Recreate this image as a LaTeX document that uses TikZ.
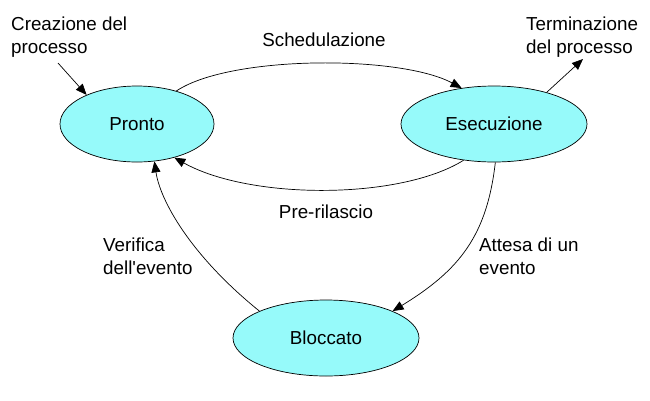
\documentclass[tikz,border=0pt]{standalone}
\usepackage{fontspec}
\setmainfont{Liberation Sans}[Ligatures=TeXOff]
\usetikzlibrary{shapes.geometric,arrows.meta}
\definecolor{statefill}{RGB}{150,250,250}
\tikzset{
  state/.style={ellipse,draw=black,line width=0.7pt,fill=statefill,inner sep=0pt,minimum height=76pt,font=\fontsize{18.8}{23}\selectfont},
  lbl/.style={font=\fontsize{18.8}{23}\selectfont,inner sep=0pt},
  conn/.style={draw=black,line width=0.7pt,-{Triangle[length=11pt,width=9pt]}}
}
\begin{document}
\begin{tikzpicture}[x=1pt,y=-1pt]
\useasboundingbox (0,0) rectangle (650,400);
\node[state,minimum width=154pt] (pronto) at (137,124) {Pronto};
\node[state,minimum width=186pt] (esec) at (494,124) {Esecuzione};
\node[state,minimum width=186pt] (bloc) at (326,338) {Bloccato};

\node[lbl,anchor=west,align=left] (creaz) at (11,37) {Creazione del\\processo};
\node[lbl,anchor=west,align=left] (term) at (526,37) {Terminazione\\del processo};
\node[lbl] (sched) at (324,40) {Schedulazione};
\node[lbl] (prer) at (326,212) {Pre-rilascio};
\node[lbl,anchor=west,align=left] (verif) at (103,256) {Verifica\\dell'evento};
\node[lbl,anchor=west,align=left] (attesa) at (479,256) {Attesa di un\\evento};

\coordinate (cstart) at (58,63);
\coordinate (tend) at (583,59);

\draw[conn] (cstart) -- (pronto.150);
\draw[conn] (esec.31) -- (tend);
\draw[conn] (pronto.40) .. controls (230,55) and (400,55) .. (esec.132);
\draw[conn] (esec.230) .. controls (400,200) and (250,200) .. (pronto.318);
\draw[conn] (bloc.158) .. controls (190,255) and (160,200) .. (pronto.295);
\draw[conn] (esec.272) .. controls (487,235) and (460,270) .. (bloc.22);
\end{tikzpicture}
\end{document}
